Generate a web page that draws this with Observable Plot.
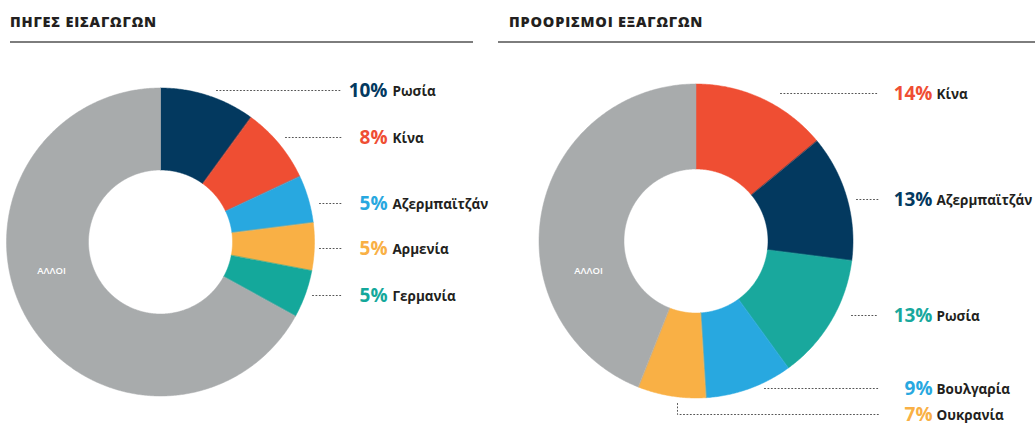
<!DOCTYPE html>
<html>
<head>
<meta charset="utf-8">
<script src="https://cdn.jsdelivr.net/npm/d3@7"></script>
<script src="https://cdn.jsdelivr.net/npm/@observablehq/plot@0.6"></script>
<style>
  html, body { margin: 0; padding: 0; background: #fff; }
  #page { position: relative; width: 1035px; height: 426px; overflow: hidden; font-family: "Open Sans", "Noto Sans", sans-serif; }
  .title { position: absolute; top: 12px; font-size: 14.5px; font-weight: 800; letter-spacing: 0.8px; color: #231f20; line-height: 20px; }
  .rule { position: absolute; top: 41px; height: 2px; background: #7d7d7d; }
  .panel { position: absolute; top: 50px; }
  .panel svg { overflow: hidden; }
</style>
</head>
<body>
<div id="page">
  <div class="title" style="left:10px">ΠΗΓΕΣ ΕΙΣΑΓΩΓΩΝ</div>
  <div class="rule" style="left:10px; width:463px"></div>
  <div class="title" style="left:509px">ΠΡΟΟΡΙΣΜΟΙ ΕΞΑΓΩΓΩΝ</div>
  <div class="rule" style="left:498px; width:537px"></div>
  <div class="panel" id="left" style="left:0px; width:517px; height:376px"></div>
  <div class="panel" id="right" style="left:517px; width:518px; height:376px"></div>
</div>
<script>
// ---- Data ----
const otherLabel = "ΑΛΛΟΙ";

const importNames  = ["Ρωσία", "Κίνα", "Αζερμπαϊτζάν", "Αρμενία", "Γερμανία", otherLabel];
const importValues = [10, 8, 5, 5, 5, 67];
const importColors = ["#03395f", "#ef4e33", "#28a8e0", "#f9b045", "#14a89b", "#a8abac"];

const exportNames  = ["Κίνα", "Αζερμπαϊτζάν", "Ρωσία", "Βουλγαρία", "Ουκρανία", otherLabel];
const exportValues = [14, 13, 13, 9, 7, 44];
const exportColors = ["#ef4e33", "#03395f", "#19a89d", "#28a8e0", "#f9b045", "#a8abac"];

// ---- Layout (page pixel positions of the drawing, not data) ----
const leftLayout = {
  el: "#left", left: 0, top: 50, width: 517, height: 376,
  cx: 160, cy: 241.5, R: 154, r: 72,
  labelY: [90, 137, 203, 248, 295],
  leaderStart: [216, 285, 319, 319, 312],
  leaderEnd: 341, pctRight: 387, nameLeft: 392,
  elbow: [null, null, null, null, null],
  other: [51, 270]
};
const rightLayout = {
  el: "#right", left: 517, top: 50, width: 518, height: 376,
  cx: 695.5, cy: 240.5, R: 157, r: 72,
  labelY: [93, 199, 315, 388, 414],
  leaderStart: [780, 856, 851, 764, 677],
  leaderEnd: 878, pctRight: 932, nameLeft: 936,
  elbow: [null, null, null, null, 403],
  other: [588, 270]
};

function donut(names, values, colors, L) {
  const X = px => px - L.cx;           // page x -> donut units
  const Y = py => L.cy - py;           // page y -> donut units (up positive)
  const arcs = d3.pie().sort(null).value(d => d)(values);
  const pts = [];
  arcs.forEach((a, i) => {
    const steps = Math.max(2, Math.ceil((a.endAngle - a.startAngle) / (Math.PI / 360)));
    for (let k = 0; k <= steps; k++) {
      const t = a.startAngle + (a.endAngle - a.startAngle) * k / steps;
      pts.push({name: names[i], x: L.R * Math.sin(t), y: L.R * Math.cos(t)});
    }
    for (let k = steps; k >= 0; k--) {
      const t = a.startAngle + (a.endAngle - a.startAngle) * k / steps;
      pts.push({name: names[i], x: L.r * Math.sin(t), y: L.r * Math.cos(t)});
    }
  });

  const labelled = names.slice(0, 5).map((n, i) => ({
    name: n, pct: values[i] + "%", y: Y(L.labelY[i])
  }));
  const leaders = [];
  names.slice(0, 5).forEach((n, i) => {
    if (L.elbow[i] != null) leaders.push({id: i, x: X(L.leaderStart[i]), y: Y(L.elbow[i])});
    leaders.push({id: i, x: X(L.leaderStart[i]), y: Y(L.labelY[i])});
    leaders.push({id: i, x: X(L.leaderEnd), y: Y(L.labelY[i])});
  });

  const localCx = L.cx - L.left, localCy = L.cy - L.top;
  const chart = Plot.plot({
    width: L.width, height: L.height, margin: 0,
    x: {domain: [-localCx, L.width - localCx], axis: null},
    y: {domain: [-(L.height - localCy), localCy], axis: null},
    color: {domain: names, range: colors},
    style: {fontFamily: "'Open Sans', 'Noto Sans', sans-serif", background: "transparent"},
    marks: [
      Plot.line(pts, {x: "x", y: "y", z: "name", fill: "name", stroke: "name", strokeWidth: 0.5, curve: "linear-closed"}),
      Plot.line(leaders, {x: "x", y: "y", z: "id", stroke: "#555", strokeWidth: 1, strokeDasharray: "1,2.4", curve: "linear"}),
      Plot.text(labelled, {x: () => X(L.pctRight), y: "y", text: "pct", fill: "name", textAnchor: "end", fontSize: 19, fontWeight: 700}),
      Plot.text(labelled, {x: () => X(L.nameLeft), y: "y", text: "name", fill: "#231f20", textAnchor: "start", fontSize: 13.5, fontWeight: 700, dy: 1}),
      Plot.text([otherLabel], {x: () => X(L.other[0]), y: () => Y(L.other[1]), text: d => d, fill: "white", fontSize: 9.5, fontWeight: 600})
    ]
  });
  document.querySelector(L.el).appendChild(chart);
}

donut(importNames, importValues, importColors, leftLayout);
donut(exportNames, exportValues, exportColors, rightLayout);
</script>
</body>
</html>
